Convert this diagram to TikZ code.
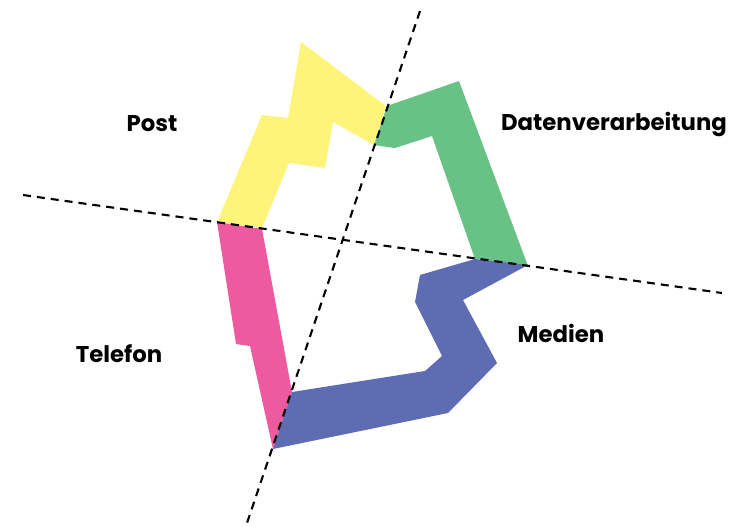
\documentclass[tikz,border=0pt]{standalone}
\usepackage{fontspec}
\setmainfont{Poppins}
\definecolor{cyellow}{HTML}{FFF47A}
\definecolor{cgreen}{HTML}{68C285}
\definecolor{cpink}{HTML}{EE5A9F}
\definecolor{cblue}{HTML}{5E6DB3}
\begin{document}
\begin{tikzpicture}[x=1pt,y=-1pt,
  region/.style={draw=none},
  axis/.style={black,line width=2.1pt,dash pattern=on 8pt off 6pt},
  lbl/.style={font=\fontsize{22.8}{26}\selectfont\bfseries,inner sep=0pt}]
\useasboundingbox (0,0) rectangle (739,527);
% yellow
\fill[cyellow,region] (301,42) -- (386,106) -- (374,145) -- (333,122) -- (325,168) -- (289,163) -- (262,228) -- (217,222) -- (262,115) -- (288,118) -- cycle;
% green
\fill[cgreen,region] (387,106) -- (459,81) -- (528,266) -- (475,259) -- (432,136) -- (395,148) -- (374,145) -- cycle;
% pink
\fill[cpink,region] (217,222) -- (262,229) -- (292,392) -- (273,449) -- (250,346) -- (236,344) -- cycle;
% blue
\fill[cblue,region] (528,265) -- (475,259) -- (420,275) -- (415,302) -- (442,356) -- (425,371) -- (292,392) -- (273,449) -- (448,413) -- (497,363) -- (463,300) -- cycle;
% axes
\coordinate (h1) at (23,195);
\coordinate (h2) at (722,293);
\coordinate (v1) at (420,11);
\coordinate (v2) at (247,523);
\draw[axis] (h1) -- (h2);
\draw[axis] (v1) -- (v2);
% labels
\node[lbl] (post) at (152,124) {Post};
\node[lbl] (daten) at (614,125) {Datenverarbeitung};
\node[lbl] (tel) at (119,354) {Telefon};
\node[lbl] (med) at (561,333) {Medien};
\end{tikzpicture}
\end{document}
